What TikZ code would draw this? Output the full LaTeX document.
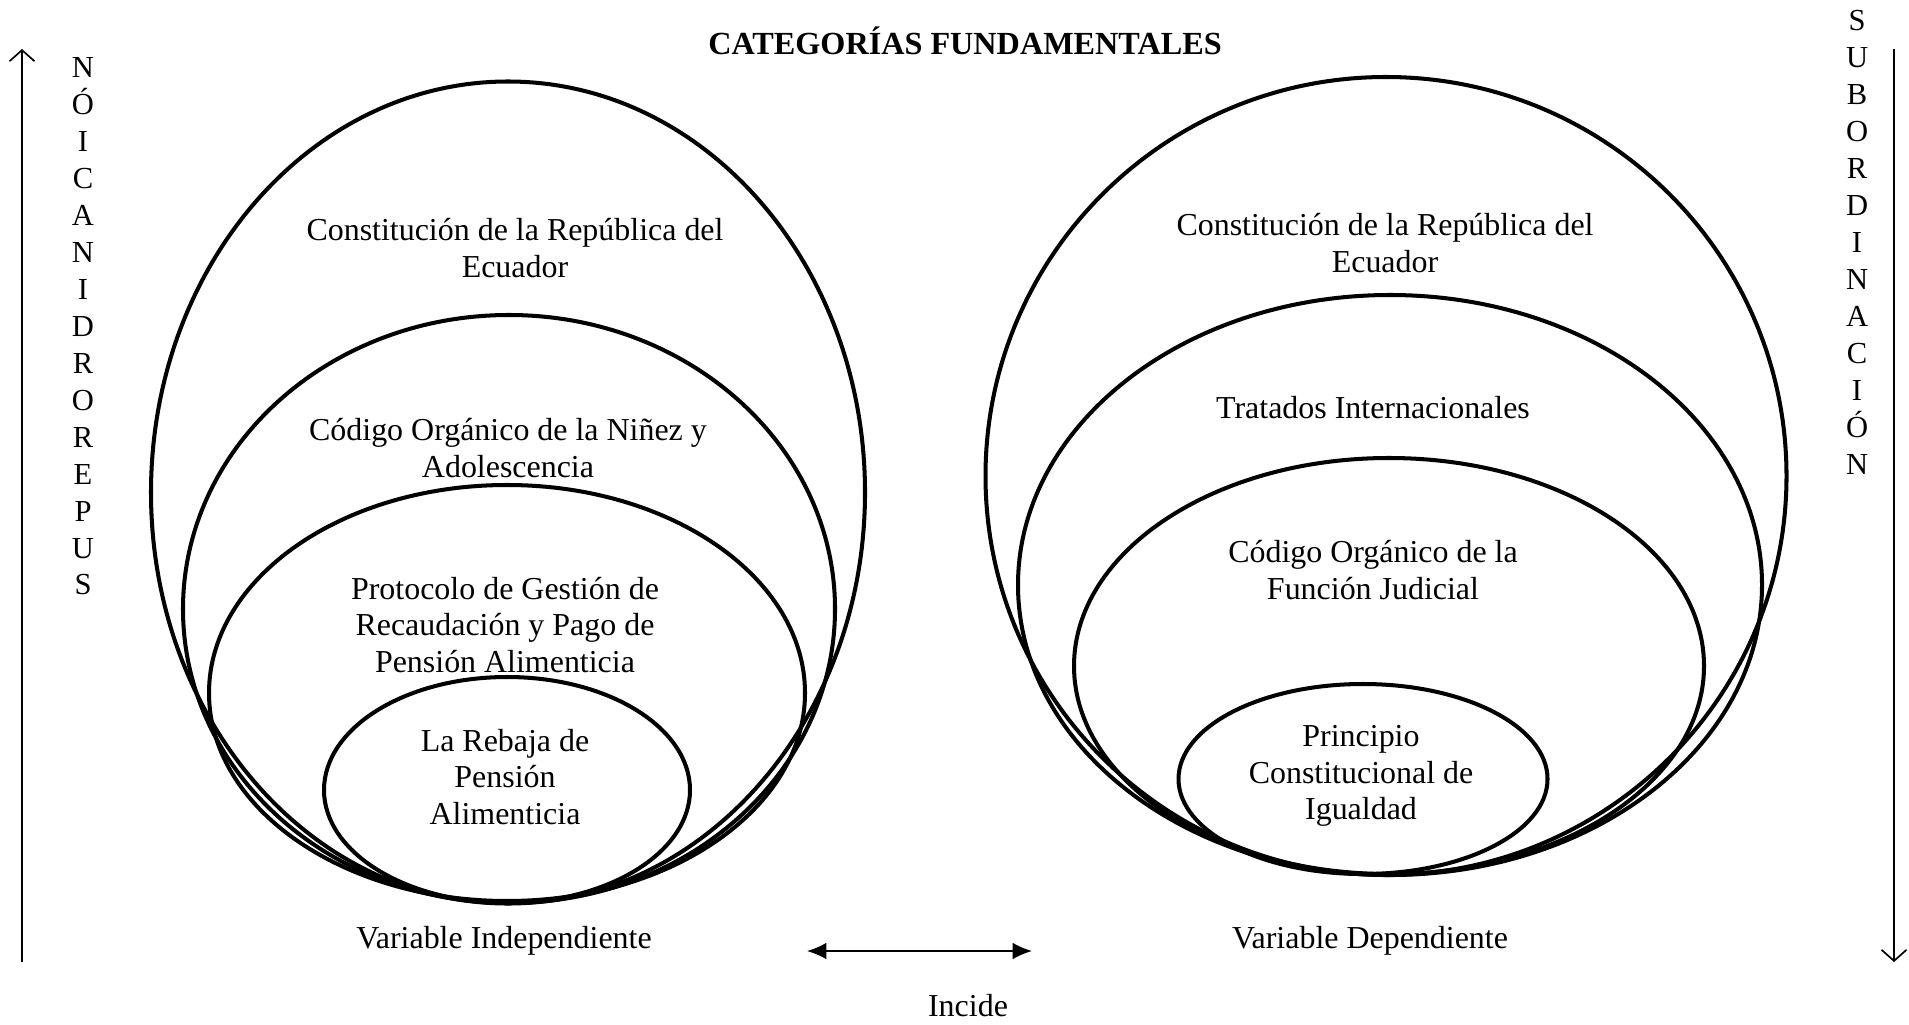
\documentclass[tikz,border=0pt]{standalone}
\usepackage{fontspec}
\setmainfont{Liberation Serif}
\usetikzlibrary{arrows.meta}
\tikzset{
  ring/.style={line width=1.45pt},
  lbl/.style={align=center, font=\fontsize{11.5}{13.2}\selectfont, inner sep=0pt},
  letters/.style={align=center, font=\fontsize{11}{13.3}\selectfont, inner sep=0pt},
  axis/.style={line width=0.6pt},
}
\begin{document}
\begin{tikzpicture}[x=0.36pt, y=-0.36pt]
      \useasboundingbox (0,0) rectangle (1909,1025);

      \node[font=\fontsize{11.6}{14}\selectfont\bfseries] (title) at (965,41) {CATEGORÍAS FUNDAMENTALES};

      % left side
      \draw[ring] (508,492.5) ellipse[x radius=357, y radius=411];
      \draw[ring] (509,609) ellipse[x radius=326, y radius=294];
      \draw[ring] (507,693) ellipse[x radius=298, y radius=208];
      \draw[ring] (507,790) ellipse[x radius=183, y radius=113];
      \node[lbl] (constA) at (515,248) {Constitución de la República del\\Ecuador};
      \node[lbl] (ninez) at (508,448) {Código Orgánico de la Niñez y\\Adolescencia};
      \node[lbl] (protocolo) at (505,625) {Protocolo de Gestión de\\Recaudación y Pago de\\Pensión Alimenticia};
      \node[lbl] (rebaja) at (505,777) {La Rebaja de\\Pensión\\Alimenticia};
      \node[lbl] (varind) at (504,941) {Variable Independiente};

      % right side
      \draw[ring] (1386,476) ellipse[x radius=400.5, y radius=399];
      \draw[ring] (1390,585) ellipse[x radius=372, y radius=290];
      \draw[ring] (1389,666) ellipse[x radius=315, y radius=208];
      \draw[ring] (1363,779) ellipse[x radius=184.5, y radius=95];
      \node[lbl] (constB) at (1385,243) {Constitución de la República del\\Ecuador};
      \node[lbl] (tratados) at (1373,408) {Tratados Internacionales};
      \node[lbl] (judicial) at (1373,570) {Código Orgánico de la\\Función Judicial};
      \node[lbl] (igualdad) at (1361,776) {Principio\\Constitucional de\\Igualdad};
      \node[lbl] (vardep) at (1370,941) {Variable Dependiente};

      % incide
      \coordinate (incA) at (807,951);
      \coordinate (incB) at (1032,951);
      \draw[axis, {Latex[length=7pt,width=6pt]}-{Latex[length=7pt,width=6pt]}] (incA) -- (incB);
      \node[lbl] (incide) at (968,1006) {Incide};

      % vertical axes
      \coordinate (upA) at (22,962);
      \coordinate (upB) at (22,49);
      \draw[axis, -{Straight Barb[length=4pt,width=9pt]}] (upA) -- (upB);
      \node[letters] (supra) at (83,326.5) {N\\Ó\\I\\C\\A\\N\\I\\D\\R\\O\\R\\E\\P\\U\\S};
      \coordinate (downA) at (1894,49);
      \coordinate (downB) at (1894,962);
      \draw[axis, -{Straight Barb[length=4pt,width=9pt]}] (downA) -- (downB);
      \node[letters] (subor) at (1857,242.5) {S\\U\\B\\O\\R\\D\\I\\N\\A\\C\\I\\Ó\\N};
\end{tikzpicture}
\end{document}
